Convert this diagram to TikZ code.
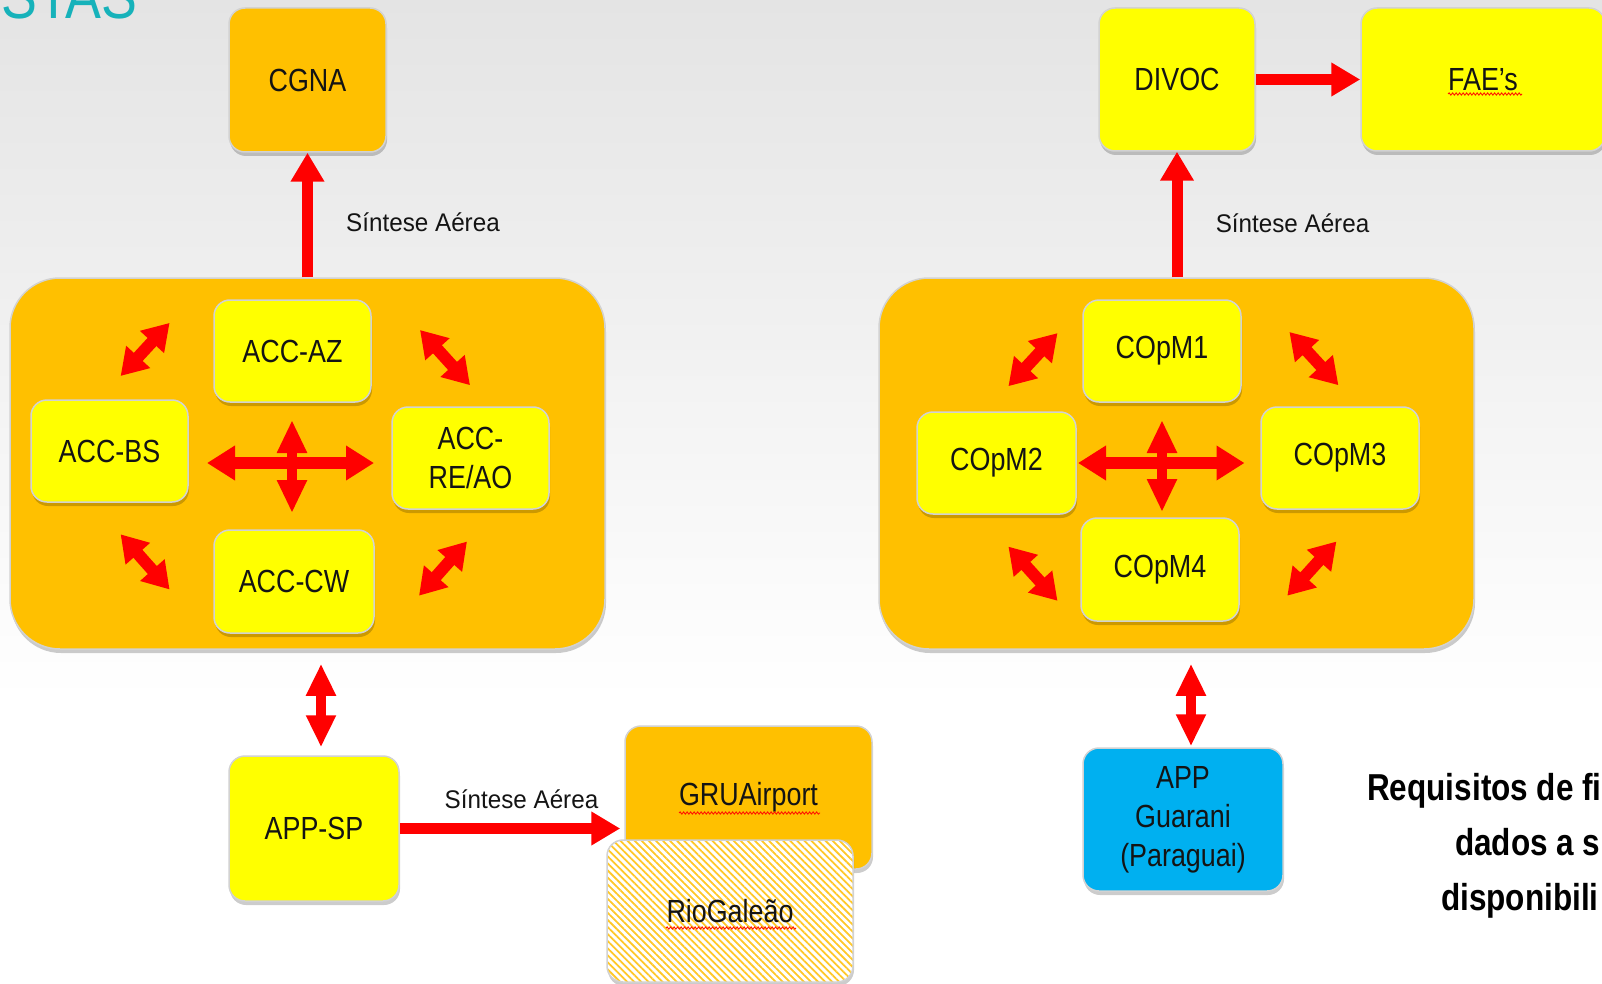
\documentclass[tikz,border=0pt]{standalone}
\usepackage{fontspec}
\setmainfont{Liberation Sans}[FakeStretch=0.84]
\newfontfamily\lblfont{Liberation Sans}[FakeStretch=0.95]
\usetikzlibrary{arrows.meta,shadows,patterns.meta,decorations.pathmorphing,calc}
\definecolor{orng}{RGB}{255,192,0}
\definecolor{yllw}{RGB}{255,255,0}
\definecolor{redA}{RGB}{255,0,0}
\definecolor{blu}{RGB}{0,176,240}
\definecolor{teal2}{RGB}{22,178,186}
\definecolor{edge}{RGB}{210,210,210}
\definecolor{txt}{RGB}{20,20,20}
\definecolor{hatch}{RGB}{255,200,40}
\definecolor{bgtop}{RGB}{228,228,228}
\begin{document}
\begin{tikzpicture}[x=1pt,y=-1pt,
  box/.style={rounded corners=16pt, draw=edge, line width=1.5pt, inner sep=0pt, align=center, text=txt,
    font=\fontsize{32}{39}\selectfont,
    drop shadow={shadow xshift=1pt, shadow yshift=-4pt, opacity=0.2, fill=black}},
  ybox/.style={box, fill=yllw},
  obox/.style={box, fill=orng},
  bbox/.style={box, fill=blu},
  bigbox/.style={box, fill=orng, rounded corners=50pt},
  arr/.style={draw=redA, line width=11pt, -{Triangle[length=29pt,width=32pt]}},
  dbl/.style={draw=redA, line width=10pt, {Triangle[length=32pt,width=28pt]}-{Triangle[length=32pt,width=28pt]}},
  crsh/.style={draw=redA, line width=12pt, {Triangle[length=28pt,width=33pt]}-{Triangle[length=28pt,width=33pt]}},
  crsv/.style={draw=redA, line width=10pt, {Triangle[length=33pt,width=28pt]}-{Triangle[length=33pt,width=28pt]}},
  dg/.style={draw=redA, line width=12pt, {Triangle[length=26pt,width=31pt]}-{Triangle[length=26pt,width=31pt]}},
  lbl/.style={font=\lblfont\fontsize{25.5}{30}\selectfont, text=txt, anchor=base, inner sep=0pt},
  side/.style={font=\bfseries\fontsize{37.5}{45}\selectfont, text=black, anchor=base west, inner sep=0pt},
  squig/.style={draw=red!85!orange, line width=0.9pt, decorate, decoration={snake, amplitude=1.1pt, segment length=3.5pt}},
]
\useasboundingbox (0,0) rectangle (1602,984);
\clip (0,0) rectangle (1602,984);
% background
\fill[white] (0,0) rectangle (1602,984);
\shade[top color=bgtop, bottom color=white] (0,0) rectangle (1602,700);

% title fragment
\node[anchor=base west, inner sep=0pt, text=teal2, font=\fontsize{64}{64}\selectfont] (ttl) at (1,19) {STAS};

% top boxes
\node[obox, minimum width=157pt, minimum height=144pt] (cgna) at (307.5,80) {CGNA};
\node[ybox, minimum width=156pt, minimum height=143pt] (divoc) at (1177,79.5) {DIVOC};
\node[ybox, minimum width=244pt, minimum height=143pt] (fae) at (1483,79.5) {FAE’s};

% big containers
\node[bigbox, minimum width=595pt, minimum height=371pt] (leftbig) at (307.5,463.5) {};
\node[bigbox, minimum width=595pt, minimum height=371pt] (rightbig) at (1176.5,463.5) {};

% left inner boxes
\node[ybox, minimum width=157pt, minimum height=102pt] (accaz) at (292.5,351) {ACC-AZ};
\node[ybox, minimum width=157pt, minimum height=102pt] (accbs) at (109.5,451) {ACC-BS};
\node[ybox, minimum width=157pt, minimum height=102pt] (accre) at (470.5,458) {ACC-\\RE/AO};
\node[ybox, minimum width=160pt, minimum height=103pt] (acccw) at (294,581.5) {ACC-CW};

% right inner boxes
\node[ybox, minimum width=158pt, minimum height=102pt] (copm1) at (1162,351) {COpM1};
\node[ybox, minimum width=159pt, minimum height=102pt] (copm2) at (996.5,463) {COpM2};
\node[ybox, minimum width=158pt, minimum height=102pt] (copm3) at (1340,458) {COpM3};
\node[ybox, minimum width=158pt, minimum height=103pt] (copm4) at (1160,569.5) {COpM4};

% bottom boxes
\node[ybox, minimum width=170pt, minimum height=145pt] (appsp) at (314,828.5) {APP-SP};
\node[obox, minimum width=247pt, minimum height=143pt] (gru) at (748.5,797.5) {GRUAirport};
\node[box, preaction={fill=white}, pattern={Lines[angle=-45,distance=5pt,line width=1.8pt]}, pattern color=hatch,
      minimum width=246pt, minimum height=142pt] (rio) at (730,911) {RioGaleão};
\node[bbox, minimum width=200pt, minimum height=143pt] (guarani) at (1183,819.5) {APP\\Guarani\\(Paraguai)};

% spell-check underlines
\draw[squig] (679,813) -- (820,813);
\draw[squig] (666,928) -- (796,928);
\draw[squig] (1448,94) -- (1522,94);

% labels
\node[lbl] (s1) at (423,232) {Síntese Aérea};
\node[lbl] (s2) at (1292.5,233) {Síntese Aérea};
\node[lbl] (s3) at (521.5,808) {Síntese Aérea};

% main connectors
\draw[arr] (leftbig.north -| cgna.south) -- (cgna.south);
\draw[arr] (rightbig.north -| divoc.south) -- (divoc.south);
\draw[arr] (divoc.east) -- (fae.west);
\draw[arr, shorten >=4pt] (appsp.east) -- (appsp.east -| gru.west);
\coordinate (lx) at (321,0);
\coordinate (rx) at (1191,0);
\draw[dbl, shorten <=14pt, shorten >=8pt] (leftbig.south -| lx) -- (appsp.north -| lx);
\draw[dbl, shorten <=14pt, shorten >=1pt] (rightbig.south -| rx) -- (guarani.north -| rx);

% left cross
\coordinate (lh1) at (207,463); \coordinate (lh2) at (374,463);
\coordinate (lv1) at (292,420); \coordinate (lv2) at (292,513);
\draw[crsh] (lh1) -- (lh2);
\draw[crsv] (lv1) -- (lv2);
% right cross
\coordinate (rh1) at (1078,463); \coordinate (rh2) at (1244.5,463);
\coordinate (rv1) at (1162,420); \coordinate (rv2) at (1162,512);
\draw[crsh] (rh1) -- (rh2);
\draw[crsv] (rv1) -- (rv2);

% left diagonals
\coordinate (la1) at (120.6,376); \coordinate (la2) at (169.6,322.9);
\coordinate (lb1) at (420,330); \coordinate (lb2) at (470,385.2);
\coordinate (lc1) at (120.6,534.3); \coordinate (lc2) at (169.6,589.5);
\coordinate (ld1) at (419,595.7); \coordinate (ld2) at (467,541.5);
\draw[dg] (la1) -- (la2);
\draw[dg] (lb1) -- (lb2);
\draw[dg] (lc1) -- (lc2);
\draw[dg] (ld1) -- (ld2);
% right diagonals
\coordinate (ra1) at (1008.4,386.2); \coordinate (ra2) at (1057.5,333.1);
\coordinate (rb1) at (1289.4,332); \coordinate (rb2) at (1338.4,385.2);
\coordinate (rc1) at (1008.4,546.6); \coordinate (rc2) at (1057.5,600.8);
\coordinate (rd1) at (1287.3,595.7); \coordinate (rd2) at (1336.4,541.5);
\draw[dg] (ra1) -- (ra2);
\draw[dg] (rb1) -- (rb2);
\draw[dg] (rc1) -- (rc2);
\draw[dg] (rd1) -- (rd2);

% side text (cut off at right edge)
\node[side] (t1) at (1367,800) {Requisitos de fi};
\node[side] (t2) at (1455,855) {dados a s};
\node[side] (t3) at (1441,910) {disponibili};
\end{tikzpicture}
\end{document}
